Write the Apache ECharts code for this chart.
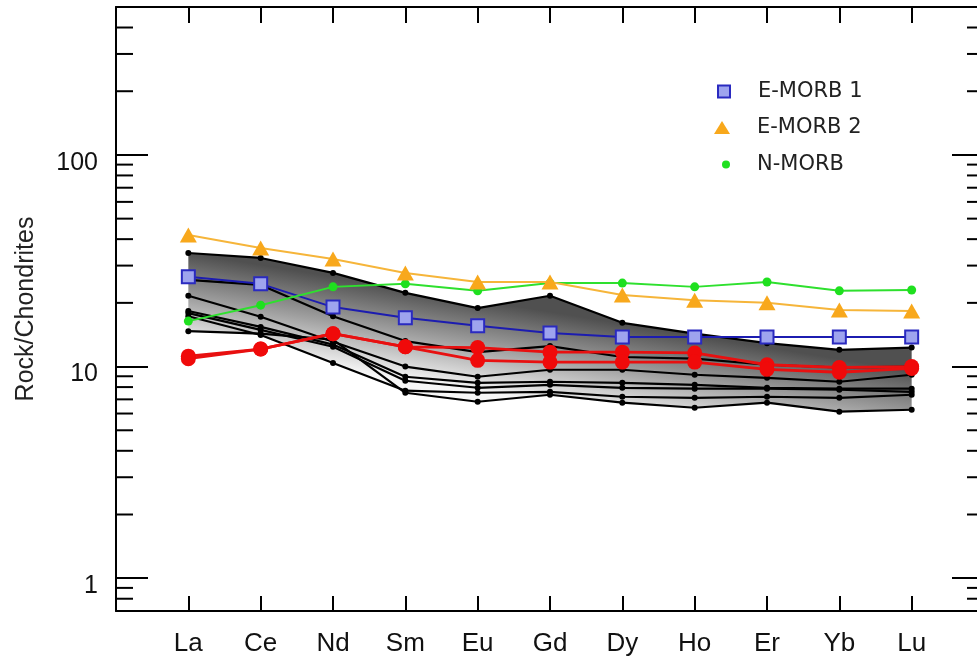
<!DOCTYPE html>
<html>
<head>
<meta charset="utf-8">
<script src="https://cdn.jsdelivr.net/npm/echarts@6/dist/echarts.min.js"></script>
<style>
html,body{margin:0;padding:0;background:#fff;}
#chart{width:977px;height:661px;}
</style>
</head>
<body>
<div id="chart"></div>
<script>
// ---- data ----
const elements = ['La','Ce','Nd','Sm','Eu','Gd','Dy','Ho','Er','Yb','Lu'];
const yTickLabels = [1, 10, 100];
const minorTicks = [0.8, 0.9, 2, 3, 4, 5, 6, 7, 8, 9, 20, 30, 40, 50, 60, 70, 80, 90, 200, 300, 400];

const sampleA = [34.4, 32.6, 27.7, 22.3, 18.9, 21.6, 16.1, 14.3, 12.9, 12.0, 12.3];
const sampleB = [25.7, 24.3, 17.3, 13.2, 11.7, 12.5, 11.1, 10.9, 10.2, 9.9, 10.0];
const sampleC = [21.6, 17.2, 13.1, 10.0, 8.95, 9.66, 9.66, 9.15, 8.85, 8.48, 9.15];
const sampleD = [18.3, 15.4, 12.7, 8.95, 8.38, 8.48, 8.38, 8.20, 7.94, 7.86, 7.86];
const sampleE = [17.9, 14.9, 12.4, 8.57, 7.94, 8.20, 7.94, 7.86, 7.86, 7.77, 7.60];
const sampleF = [17.3, 14.1, 10.4, 7.69, 7.52, 7.60, 7.20, 7.12, 7.20, 7.12, 7.36];
const sampleG = [14.7, 14.3, 13.4, 7.52, 6.82, 7.36, 6.75, 6.39, 6.75, 6.12, 6.25];

const redSample1 = [11.2, 12.1, 14.3, 12.4, 12.3, 11.7, 11.7, 11.6, 10.2, 9.9, 10.0];
const redSample2 = [10.9, 12.1, 14.3, 12.4, 10.7, 10.5, 10.5, 10.5, 9.7, 9.4, 9.8];

const emorb1 = [26.6, 24.6, 19.1, 17.0, 15.6, 14.4, 13.8, 13.8, 13.8, 13.8, 13.8];
const emorb2 = [41.8, 36.3, 32.2, 27.7, 25.1, 25.1, 21.8, 20.6, 20.0, 18.5, 18.3];
const nmorb  = [16.4, 19.5, 23.8, 24.6, 22.8, 24.8, 24.8, 23.8, 25.1, 22.8, 23.0];

// ---- build ----
const blackSamples = [sampleA, sampleB, sampleC, sampleD, sampleE, sampleF, sampleG];
const bandLow = elements.map((_, i) => Math.min(...blackSamples.map(s => s[i])));
const bandHigh = elements.map((_, i) => Math.max(...blackSamples.map(s => s[i])));
const xy = arr => arr.map((v, i) => [i, v]);

const FONT = "'Liberation Sans', Arial, sans-serif";
const LFONT = "'DejaVu Sans', Verdana, sans-serif";

const chart = echarts.init(document.getElementById('chart'), null, {renderer: 'canvas'});

const xAxisBase = {
  type: 'value', min: -1, max: 11, interval: 1,
  splitLine: {show: false},
  axisLine: {show: true, onZero: false, lineStyle: {color: '#000', width: 2}},
  axisTick: {show: true, inside: true, length: 15, lineStyle: {color: '#000', width: 2}}
};
const yAxisBase = {
  type: 'log', logBase: 10, min: 0.7, max: 500,
  splitLine: {show: false},
  axisLine: {show: true, onZero: false, lineStyle: {color: '#000', width: 2}},
  axisTick: {show: true, inside: true, length: 32, lineStyle: {color: '#000', width: 2}}
};

const series = [];
series.push({
  type: 'custom', name: 'band', silent: true, clip: false, z: 1,
  data: [[0, bandHigh[0]]],
  renderItem: (params, api) => {
    const pts = [];
    bandHigh.forEach((v, i) => pts.push(api.coord([i, v])));
    for (let i = bandLow.length - 1; i >= 0; i--) pts.push(api.coord([i, bandLow[i]]));
    return {
      type: 'polygon', shape: {points: pts},
      style: {
        fill: new echarts.graphic.LinearGradient(-0.02, 0.56, 0, 0, [
          {offset: 0, color: '#f6f6f6'},
          {offset: 0.5, color: '#a0a0a0'},
          {offset: 1, color: '#505050'}
        ]),
        stroke: 'none'
      }
    };
  }
});
blackSamples.forEach((s, k) => {
  series.push({
    type: 'line', name: 'sample' + k, data: xy(s), z: 2,
    symbol: 'circle', symbolSize: 6,
    itemStyle: {color: '#000'},
    lineStyle: {color: '#000', width: 2.2}
  });
});
[redSample1, redSample2].forEach((s, k) => {
  series.push({
    type: 'line', name: 'red' + k, data: xy(s), z: 3,
    symbol: 'circle', symbolSize: 15,
    itemStyle: {color: '#f00a0a'},
    lineStyle: {color: '#e81010', width: 2.8}
  });
});
series.push({
  type: 'line', name: 'E-MORB 1', data: xy(emorb1), z: 4,
  symbol: 'rect', symbolSize: 13,
  itemStyle: {color: '#9ea4ee', borderColor: '#2a2ac0', borderWidth: 2},
  lineStyle: {color: '#1c1cb0', width: 2}
});
series.push({
  type: 'line', name: 'N-MORB', data: xy(nmorb), z: 5,
  symbol: 'circle', symbolSize: 9,
  itemStyle: {color: '#1fe01f'},
  lineStyle: {color: '#2ee02e', width: 2}
});
series.push({
  type: 'line', name: 'E-MORB 2', data: xy(emorb2), z: 6,
  symbol: 'triangle', symbolSize: [17, 15],
  itemStyle: {color: '#f8a81c'},
  lineStyle: {color: '#f6b53a', width: 2}
});
series.push({
  type: 'custom', name: 'minorTicks', silent: true, clip: false, z: 10,
  data: minorTicks.map(v => [-1, v]),
  renderItem: (params, api) => {
    const v = api.value(1);
    const l = api.coord([-1, v]);
    const r = api.coord([11, v]);
    return {type: 'group', children: [
      {type: 'line', shape: {x1: l[0], y1: l[1], x2: l[0] + 17, y2: l[1]}, style: {stroke: '#000', lineWidth: 2}},
      {type: 'line', shape: {x1: r[0] - 17, y1: r[1], x2: r[0], y2: r[1]}, style: {stroke: '#000', lineWidth: 2}}
    ]};
  }
});

function legendAt(name, icon, w, h, top, iconLeft) {
  return {
    data: [{name: name, icon: icon}],
    left: iconLeft, top: top, orient: 'vertical', padding: 0,
    itemWidth: w, itemHeight: h, selectedMode: false,
    textStyle: {fontFamily: LFONT, fontSize: 21, color: '#222', padding: [0, 0, 0, 757 - (iconLeft + w + 5)]}
  };
}

const option = {
  animation: false,
  backgroundColor: '#fff',
  grid: {left: 116, width: 868, top: 7, height: 604, containLabel: false, outerBoundsMode: 'none'},
  legend: [
    legendAt('E-MORB 1', 'rect', 12, 12, 81, 717),
    legendAt('E-MORB 2', 'triangle', 16, 13, 117, 714),
    legendAt('N-MORB', 'circle', 8, 8, 154, 722)
  ],
  xAxis: [
    Object.assign({}, xAxisBase, {
      position: 'bottom',
      axisLabel: {
        show: true, margin: 20, fontFamily: FONT, fontSize: 26, color: '#111',
        formatter: v => (elements[v] !== undefined ? elements[v] : '')
      }
    }),
    Object.assign({}, xAxisBase, {
      position: 'top',
      axisTick: {show: true, inside: true, length: 16, lineStyle: {color: '#000', width: 2}},
      axisLabel: {show: false}
    })
  ],
  yAxis: [
    Object.assign({}, yAxisBase, {
      position: 'left',
      name: 'Rock/Chondrites', nameLocation: 'middle', nameRotate: 90, nameGap: 77,
      nameTextStyle: {fontFamily: FONT, fontSize: 25, color: '#222'},
      axisLabel: {
        show: true, margin: 18, fontFamily: FONT, fontSize: 25, color: '#111',
        verticalAlign: 'top', lineHeight: 16,
        formatter: v => (yTickLabels.some(t => Math.abs(t - v) < 1e-6 * t) ? String(Math.round(v)) : '')
      }
    }),
    Object.assign({}, yAxisBase, {position: 'right', axisLabel: {show: false}})
  ],
  series: series
};
chart.setOption(option);
</script>
</body>
</html>
